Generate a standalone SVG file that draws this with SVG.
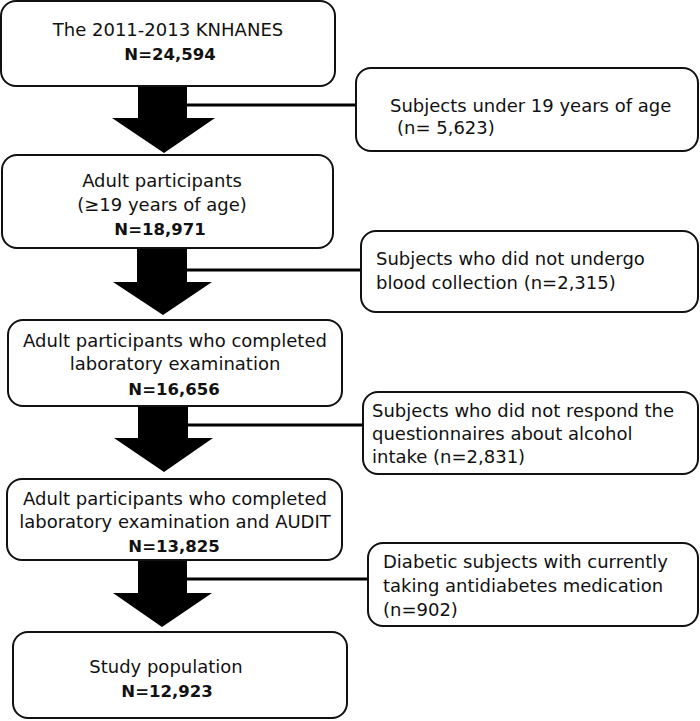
<svg xmlns="http://www.w3.org/2000/svg" width="700" height="721" viewBox="0 0 700 721">
<style>
.box{fill:#fff;stroke:#111;stroke-width:2}
.t{font-family:"DejaVu Sans","Noto Sans",sans-serif;font-size:18px;fill:#111}
.c{text-anchor:middle}
.b{font-weight:bold;font-size:16.5px}
.arrow{fill:#000}
.line{stroke:#000;stroke-width:3;fill:none}
</style>
<rect width="700" height="721" fill="#fff"/>
<g id="connectors">
<path class="arrow" d="M138,86 H187 V118 H215 L164,153 L112,118 H138 Z"/>
<line class="line" x1="187" y1="105" x2="357" y2="105"/>
<path class="arrow" d="M137,248 H187 V282 H212 L163,315 L113,282 H137 Z"/>
<line class="line" x1="187" y1="270" x2="362" y2="270"/>
<path class="arrow" d="M138,406 H188 V438 H213 L164,472 L114,438 H138 Z"/>
<line class="line" x1="188" y1="425" x2="364" y2="425"/>
<path class="arrow" d="M138,560 H187 V593 H212 L162,627 L113,593 H138 Z"/>
<line class="line" x1="187" y1="579" x2="369" y2="579"/>
</g>
<g id="n1">
<rect class="box" x="1" y="1" width="334" height="85" rx="15"/>
<text class="t c" x="168" y="36">The 2011-2013 KNHANES</text>
<text class="t c b" x="170" y="60">N=24,594</text>
</g>
<g id="n2">
<rect class="box" x="2" y="155" width="331" height="93" rx="15"/>
<text class="t c" x="162" y="187">Adult participants</text>
<text class="t c" x="162" y="211">(≥19 years of age)</text>
<text class="t c b" x="160" y="235">N=18,971</text>
</g>
<g id="n3">
<rect class="box" x="8" y="320" width="334" height="86" rx="15"/>
<text class="t c" x="175" y="347">Adult participants who completed</text>
<text class="t c" x="175" y="370">laboratory examination</text>
<text class="t c b" x="174" y="395">N=16,656</text>
</g>
<g id="n4">
<rect class="box" x="7" y="479" width="335" height="81" rx="15"/>
<text class="t c" x="175" y="505">Adult participants who completed</text>
<text class="t c" x="175" y="528">laboratory examination and AUDIT</text>
<text class="t c b" x="174" y="552">N=13,825</text>
</g>
<g id="n5">
<rect class="box" x="13" y="632" width="334" height="86" rx="15"/>
<text class="t c" x="166" y="673">Study population</text>
<text class="t c b" x="167" y="697">N=12,923</text>
</g>
<g id="e1">
<rect class="box" x="356" y="68" width="342" height="83" rx="15"/>
<text class="t" x="390" y="112">Subjects under 19 years of age</text>
<text class="t" x="397" y="134">(n=  5,623)</text>
</g>
<g id="e2">
<rect class="box" x="361" y="231" width="337" height="81" rx="15"/>
<text class="t" x="376" y="265">Subjects who did not undergo</text>
<text class="t" x="376" y="289">blood collection (n=2,315)</text>
</g>
<g id="e3">
<rect class="box" x="363" y="392" width="335" height="82" rx="15"/>
<text class="t" x="372" y="417">Subjects who did not respond the</text>
<text class="t" x="372" y="440">questionnaires about alcohol</text>
<text class="t" x="372" y="463">intake (n=2,831)</text>
</g>
<g id="e4">
<rect class="box" x="368" y="543" width="330" height="83" rx="15"/>
<text class="t" x="383" y="568">Diabetic subjects with currently</text>
<text class="t" x="383" y="592">taking antidiabetes medication</text>
<text class="t" x="383" y="616">(n=902)</text>
</g>
</svg>
